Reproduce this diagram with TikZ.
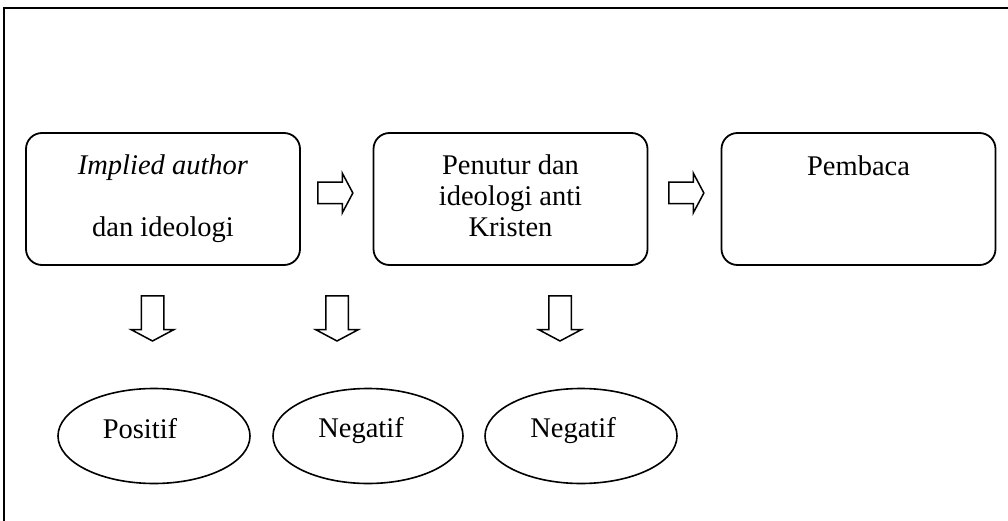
\documentclass[tikz,border=0pt]{standalone}
\usepackage{fontspec}
\setmainfont{Liberation Serif}
\usetikzlibrary{shapes.geometric,shapes.arrows}
\begin{document}
\begin{tikzpicture}[x=1pt,y=-1pt,
  every node/.style={font=\fontsize{28.5}{31}\selectfont},
  box/.style={draw, line width=1.8pt, rounded corners=16pt, minimum width=274pt, minimum height=132pt, inner sep=0pt},
  oval/.style={draw, ellipse, line width=1.6pt, minimum width=192pt, minimum height=95pt, inner sep=0pt},
  rarrow/.style={draw, single arrow, line width=1.5pt, minimum height=35pt, inner xsep=0pt, inner ysep=10pt, single arrow head extend=9pt, single arrow tip angle=124},
  darrow/.style={rarrow, rotate=-90, minimum height=45pt, inner ysep=10.5pt, single arrow head extend=10pt},
  txt/.style={inner sep=0pt, anchor=base}
]
\useasboundingbox (0,0) rectangle (1008,521);
\draw[line width=1.8pt] (4,525) -- (4,8) -- (1012,8);

\node[box] (b1) at (163,199) {};
\node[box] (b2) at (510.5,199) {};
\node[box] (b3) at (858.5,199) {};

\node[txt] (t1) at (163,175) {\begin{tabular}[t]{@{}c@{}}\textit{Implied author}\\ \\ dan ideologi\end{tabular}};
\node[txt] (t2) at (510.5,175) {\begin{tabular}[t]{@{}c@{}}Penutur dan\\ideologi anti\\Kristen\end{tabular}};
\node[txt] (t3) at (858.5,176) {Pembaca};

\node[rarrow] (r1) at (332.5,193) {};
\node[rarrow] (r2) at (683.5,193) {};

\node[darrow] (d1) at (152.5,315.5) {};
\node[darrow] (d2) at (337,315.5) {};
\node[darrow] (d3) at (560,315.5) {};

\node[oval] (e1) at (154,436) {};
\node[oval, minimum width=190pt] (e2) at (368,436) {};
\node[oval] (e3) at (581,436) {};

\node[txt] (l1) at (140,438) {Positif};
\node[txt] (l2) at (361,437) {Negatif};
\node[txt] (l3) at (573,437) {Negatif};
\end{tikzpicture}
\end{document}
